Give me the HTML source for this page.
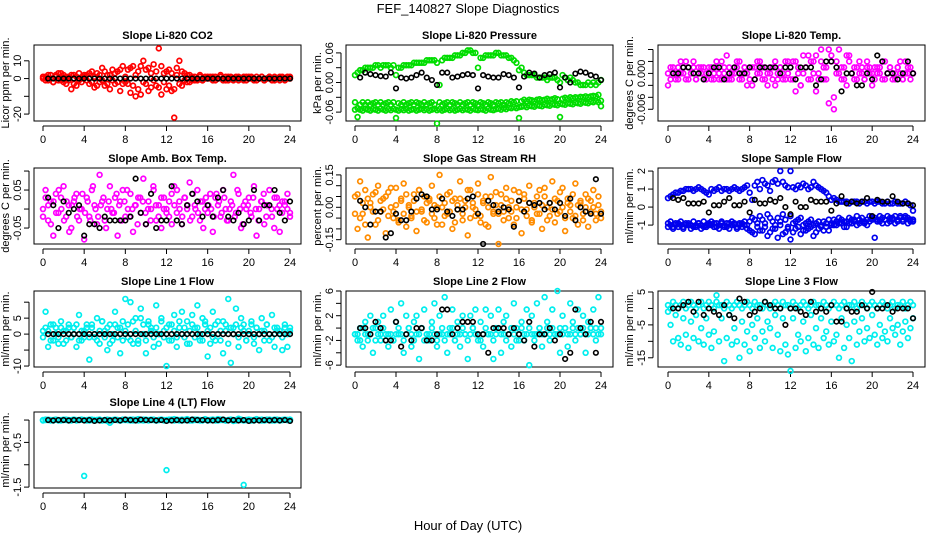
<!DOCTYPE html>
<html><head><meta charset="utf-8">
<style>
html,body{margin:0;padding:0;background:#fff;}
svg{display:block;font-family:"Liberation Sans",Arial,sans-serif;}
.t{font-size:11px;font-weight:bold;}
.tk{font-size:11px;}
</style></head>
<body>
<svg id="chart" width="936" height="540" viewBox="0 0 936 540" xmlns="http://www.w3.org/2000/svg">
<rect width="936" height="540" fill="#fff"/>
<text x="468" y="13" text-anchor="middle" font-size="13">FEF_140827  Slope Diagnostics</text>
<text x="468" y="530" text-anchor="middle" font-size="13">Hour of Day (UTC)</text>
</svg>
<script>
// ---- data (values per panel; colored series sampled every 0.25 h, black every 0.5 h) ----
const xTicks = [0,4,8,12,16,20,24];
const titles = ["Slope Li-820 CO2","Slope Li-820 Pressure","Slope Li-820 Temp.","Slope Amb. Box Temp.","Slope Gas Stream RH","Slope Sample Flow","Slope Line 1 Flow","Slope Line 2 Flow","Slope Line 3 Flow","Slope Line 4 (LT) Flow"];
const yTitles = ["Licor ppm per min.","kPa per min.","degrees C per min.","degrees C per min.","percent per min.","ml/min per min.","ml/min per min.","ml/min per min.","ml/min per min.","ml/min per min."];
const yTickVals = [[-20,-10,0,10],[-60,-30,0,30,60],[-6,-4,-2,0,2,4],[-5,0,5,10],[-15,-10,-5,0,5,10,15],[-10,0,10,20],[-10,-5,0,5,10],[-6,-4,-2,0,2,4,6],[-15,-10,-5,0,5],[-150,-100,-50,0]];
const yTickLabels = [["-20","","0","10"],["-0.06","","0.00","","0.06"],["-0.006","","","0.000","",""],["-0.05","","0.05",""],["-0.15","","","0.00","","","0.15"],["-1","0","1","2"],["-10","","0","5",""],["-6","","-2","","2","","6"],["-15","","-5","","5"],["-1.5","","-0.5",""]];
const yDomains = [[-23.9,18.9],[-78,76],[-7.96,4.75],[-9.2,10.8],[-17,18.2],[-20.5,21.7],[-10.3,13.5],[-6.3,6],[-17.8,5.3],[-152,18]];

const co2A=[0,1,-1,2,-2,1,3,-1,2,-3,1,-6,2,-4,3,-2,1,2,-3,4,-5,3,-2,6,-4,2,-6,5,-3,4,-7,7,-2,5,-8,7,-10,4,-9,10,-3,6,-5,8,-4,17,-9,3,-6,5,-7,-22,6,10,-4,3,-2,2,-1,1,-1,2,-1,1,0,1,-1,1,0,2,-1,1,-1,1,0,1,-1,0,1,-1,1,0,-1,1,0,1,-1,0,1,-1,1,0,-1,1,0,1,0];
const co2B=[1,-1,2,0,-2,2,-1,3,-2,1,-1,2,-3,1,-1,0,2,-1,3,-2,1,-4,2,-1,4,-3,2,-1,3,-2,5,-3,1,-3,6,-4,2,-6,7,-2,5,-7,3,-1,4,-5,7,-2,4,-4,3,-6,2,-3,4,-1,2,-2,1,-1,0,1,-1,0,1,0,1,-1,0,1,0,-1,1,0,-1,0,1,0,-1,1,0,1,0,-1,0,1,-1,0,1,0,-1,0,1,0,-1,0,1];
const co2K=[0,0,0,0,0,0,0,0,0,0,0,0,0,0,0,0,0,0,0,0,0,0,0,0,0,0,0,0,0,0,0,0,0,0,0,0,0,0,0,0,0,0,0,0,0,0,0,0];

const presU=[15,20,25,25,30,30,30,30,35,35,30,35,35,35,30,35,15,30,30,35,35,35,35,40,40,40,40,40,45,45,45,45,40,-5,45,50,50,50,50,55,55,55,60,60,65,65,60,60,30,50,50,55,55,55,55,60,60,55,55,55,50,50,45,40,25,30,20,15,15,15,15,10,10,10,10,5,10,10,10,5,0,15,10,5,10,5,0,0,-5,-5,-5,0,-5,0,-5,0,5];
const presL1=[-40,-70,-45,-40,-45,-40,-45,-42,-40,-45,-40,-45,-42,-40,-45,-40,-72,-42,-45,-40,-45,-42,-40,-45,-40,-42,-45,-40,-45,-42,-40,-45,-83,-40,-45,-42,-40,-45,-40,-42,-45,-40,-45,-42,-40,-45,-40,-42,-45,-40,-42,-45,-40,-42,-45,-40,-42,-40,-45,-40,-42,-38,-40,-38,-72,-38,-35,-38,-35,-36,-38,-35,-34,-36,-35,-33,-35,-34,-32,-34,-70,-33,-31,-33,-30,-32,-30,-31,-29,-30,-28,-30,-28,-27,-28,-25,-48];
const presL2=[-55,-52,-55,-57,-53,-55,-57,-54,-55,-57,-53,-55,-57,-54,-56,-53,-55,-57,-54,-56,-53,-57,-55,-54,-57,-55,-53,-56,-54,-57,-55,-53,-56,-54,-57,-55,-53,-56,-54,-57,-55,-53,-56,-54,-55,-57,-53,-55,-56,-54,-55,-57,-53,-55,-56,-54,-53,-55,-52,-54,-51,-52,-50,-52,-50,-49,-48,-50,-47,-48,-49,-46,-47,-48,-45,-46,-47,-44,-45,-46,-43,-44,-45,-42,-43,-44,-41,-42,-43,-40,-41,-42,-39,-40,-38,-40,-37];
const presK=[10,20,17,15,13,12,20,-12,10,8,10,15,20,10,5,-5,20,20,10,12,15,17,15,-12,15,12,10,10,17,15,10,-10,12,20,18,10,15,17,20,-10,10,0,18,22,20,15,12,5];

const tmpA=[-2,1,0,-1,1,2,0,-1,1,0,2,-1,1,0,1,-1,0,1,-1,2,0,-1,1,3,-1,0,1,2,-1,0,1,-2,1,-2,1,0,2,-1,1,-2,0,1,2,-1,1,0,-1,2,1,-1,2,0,-2,3,1,-1,2,0,3,-1,2,1,-1,4,2,-4,0,4,1,-1,3,2,0,-1,1,2,0,-1,1,0,-2,1,0,1,-1,2,0,1,-1,0,1,2,-1,0,1,-1,0];
const tmpB=[0,-1,1,0,-1,0,1,2,-1,0,1,-1,0,1,-1,0,1,-1,0,1,-1,2,0,-1,1,-1,0,1,2,-1,1,0,-1,1,-1,2,0,1,-1,0,1,-1,-2,0,1,-1,2,0,-1,2,-3,1,-2,0,1,3,-1,2,-3,0,4,-1,1,-5,3,-6,2,0,-1,1,-2,3,0,1,-1,0,1,-1,2,1,0,-1,1,0,2,-1,0,1,0,-1,1,0,-1,2,0,1,0];
const tmpK=[0,0,1,1,0,0,-1,0,1,1,-1,0,1,0,0,1,-1,1,1,1,1,0,1,1,-1,1,1,1,-2,-1,2,2,1,-3,0,0,-2,-2,0,-1,3,2,0,0,-1,0,2,0];

const ambA=[0,5,-3,2,-7,4,-1,3,6,-2,1,-5,2,4,-3,0,-8,3,-2,5,1,-4,9,2,-3,0,6,-1,3,-7,2,5,-2,0,4,-6,1,3,-1,8,-4,2,0,5,-3,1,-5,3,0,-2,4,6,-1,2,-4,3,0,7,-2,1,5,-3,2,0,-1,4,-6,3,1,-2,5,0,-3,2,9,-1,4,-5,1,0,3,-2,6,-7,0,2,-4,1,5,-2,3,0,-6,2,1,4,-1];
const ambB=[-2,3,1,-4,2,-1,5,0,-3,2,-6,1,3,-2,0,4,-1,2,-3,6,0,-2,1,3,-5,2,0,-1,4,1,-3,2,5,-2,0,1,-4,3,2,-1,0,-3,6,1,-2,3,0,-1,2,-4,1,5,0,-2,3,1,-3,4,0,-1,2,-5,3,1,0,-2,4,2,-1,3,-3,0,1,-2,5,0,-4,2,1,-1,3,0,-3,2,4,-2,1,0,-5,3,1,-1,2,0,-2];
const ambK=[3,1,-5,2,-1,0,1,-7,-4,-4,-5,-2,-3,-3,-3,-3,-2,8,-1,-4,4,-5,-3,-3,6,-3,-4,1,4,2,-2,1,-2,3,5,-2,-3,-1,-4,-3,5,-3,1,1,5,-1,-3,2];

const rhA=[5,-10,12,-3,8,-14,2,6,-8,10,-2,4,-12,7,0,-5,9,-6,3,11,-9,1,-4,6,-11,8,-2,5,-7,3,10,-5,0,15,-8,2,-3,7,-10,4,-1,12,-6,3,-13,8,0,-4,11,-7,2,5,-9,14,-3,1,-17,6,-2,9,-5,3,-8,0,7,-12,4,-1,10,-6,2,-3,8,-10,5,0,-4,12,-7,3,-2,9,-11,4,1,-5,11,-8,2,-3,6,-9,3,0,-6,5,-2];
const rhB=[-3,6,-5,2,-8,4,0,-2,7,-6,3,-1,5,-4,9,-2,1,-7,4,-3,6,0,-5,3,-2,8,-1,-6,2,4,-3,1,-8,5,0,-4,6,-2,3,-7,1,4,-3,0,8,-5,2,-1,6,-4,3,-8,0,5,-2,7,-3,1,-6,4,0,-2,8,-5,3,-1,6,-4,2,-7,0,5,-3,1,9,-6,2,-1,4,-3,7,0,-5,2,-2,6,-4,1,3,-6,0,4,-2,8,-3,1,-5];
const rhK=[3,0,-8,-2,-2,-14,-12,-3,-6,-6,-2,4,6,5,-1,-1,4,-2,-4,-1,-1,4,5,-3,-17,3,1,-2,0,-1,-9,3,-2,2,1,2,-1,2,-1,2,-4,4,-6,0,-2,-3,13,-3];

const smpU=[5,6,7,8,8,9,9,10,10,10,9,10,11,10,9,8,7,10,9,10,11,9,10,10,9,10,11,10,9,10,11,12,8,4,12,14,10,15,13,12,9,14,15,13,20,14,12,11,20,11,10,12,11,13,12,10,11,14,12,11,10,9,8,6,4,5,4,3,3,3,3,2,3,3,3,2,3,3,2,3,3,2,3,3,2,2,3,2,2,3,2,2,2,3,2,1,-2];
const smpL1=[-9,-10,-11,-10,-9,-10,-11,-10,-9,-10,-11,-10,-9,-10,-11,-10,-9,-10,-9,-11,-10,-9,-10,-11,-9,-10,-9,-11,-10,-9,-10,-12,-8,-14,-7,-11,-5,-13,-9,-16,-6,-12,-10,-17,-8,-4,-14,-11,-18,-9,-12,-7,-15,-10,-13,-8,-11,-16,-9,-12,-10,-8,-11,-13,-9,-10,-8,-9,-7,-11,-8,-9,-7,-8,-10,-7,-8,-9,-7,-8,-6,-17,-7,-8,-6,-7,-9,-6,-7,-5,-8,-6,-7,-5,-6,-8,-7];
const smpL2=[-11,-8,-12,-9,-11,-8,-12,-9,-10,-12,-8,-11,-9,-12,-8,-11,-10,-8,-11,-9,-12,-8,-11,-9,-12,-8,-10,-12,-9,-11,-8,-10,-13,-6,-15,-9,-13,-7,-11,-4,-14,-8,-12,-6,-10,-15,-7,-12,-5,-14,-8,-11,-6,-13,-9,-12,-7,-10,-14,-8,-11,-13,-9,-7,-10,-7,-10,-6,-9,-8,-11,-6,-9,-7,-5,-9,-6,-8,-10,-5,-7,-6,-8,-5,-9,-7,-5,-8,-6,-9,-7,-5,-8,-6,-9,-7,-8];
const smpK=[5,4,5,2,2,2,3,-3,1,1,3,5,1,1,3,-3,4,2,2,4,3,5,0,-4,3,0,0,4,3,3,3,-2,2,6,2,3,2,3,5,-5,4,3,3,6,3,2,2,1];

const l1A=[1,7,-4,3,-2,2,-3,4,1,-2,3,-1,2,-4,6,-2,1,3,-8,2,-1,5,-3,4,1,-5,3,-2,7,2,-6,4,11,-1,10,-3,5,-2,8,3,-6,4,2,-1,9,-3,5,1,-10,3,-2,6,-4,2,7,-1,4,-3,6,2,9,-2,5,3,-7,-3,7,-2,4,1,-6,3,11,-9,2,8,-4,5,3,-2,1,4,-3,2,-5,5,1,3,-2,6,-4,2,1,-5,3,-4,2];
const l1B=[-1,2,1,-2,3,0,-1,2,-3,1,2,-1,0,3,-2,1,-1,2,-1,3,0,-2,1,4,-1,2,-3,0,3,-1,2,-2,1,3,-2,4,1,-3,5,0,-2,3,1,-4,2,0,4,-1,2,-2,3,1,-1,4,0,2,-3,1,3,-1,2,0,-2,4,1,2,-1,3,0,-2,4,1,-3,2,0,3,-1,2,1,-2,0,3,-1,2,0,1,-2,3,0,-1,2,1,0,-1,2,0,1];
const l1K=[0,0,0,0,0,0,0,0,0,0,0,0,0,0,0,0,0,0,0,0,0,0,0,0,0,0,0,0,0,0,0,0,0,0,0,0,0,0,0,0,0,0,0,0,0,0,0,0];

const l2A=[-1,-2,0,-3,1,-1,2,-4,0,1,-2,2,-1,-3,3,-2,1,-1,4,-4,2,0,-3,1,2,-5,0,3,-1,-2,1,4,-3,2,-1,5,-4,0,3,-2,1,-3,2,-1,-5,2,0,3,-2,1,-3,3,-1,2,-5,0,3,-4,1,2,-1,-3,4,0,-2,1,-2,3,-6,2,-1,4,0,-3,5,1,-2,3,-1,6,-4,2,0,-3,4,1,-2,3,-1,2,-4,1,0,3,-2,5,-1];
const l2B=[-1,-1,-2,0,-1,-2,-1,0,-2,-1,-1,0,-2,-1,-1,-2,-1,0,-1,-2,-1,0,-1,-2,-1,-1,0,-2,-1,-1,0,-1,-2,-1,0,-2,-1,-1,0,-2,-1,-1,0,-1,-2,-1,0,-1,-1,-2,-1,0,-1,-1,-2,-1,0,-1,-1,-2,-1,0,-1,-2,-1,0,-1,-1,0,-1,-2,-1,0,-1,-1,0,-1,0,-1,-1,0,-1,0,-1,-1,0,-1,0,-1,0,-1,-1,0,-1,0,-1,0];
const l2K=[0,0,-1,1,0,-2,-2,1,-3,-1,-2,0,0,-2,-2,-1,3,3,-1,0,1,1,1,-1,-1,-4,0,0,0,-1,0,-1,-2,1,-3,-1,-1,0,-2,-1,-5,-4,3,0,-1,1,-4,1];

const l3A=[1,0,2,1,0,1,2,0,1,2,1,0,1,2,0,1,2,1,0,2,1,1,0,2,1,0,1,2,1,0,1,2,1,0,2,1,1,0,2,1,0,1,2,1,0,2,1,1,0,2,1,0,1,2,1,0,1,2,1,1,0,2,1,0,1,2,1,0,1,2,0,1,1,2,0,1,2,1,0,1,2,1,0,1,2,1,0,1,2,0,1,1,2,0,1,2,1];
const l3B=[-1,-5,-10,-2,-9,-11,-3,-8,-12,-4,-9,-2,-10,-6,-11,-3,-8,-12,-7,4,-10,-3,-16,-9,-2,-11,-6,-10,-15,-4,-11,-7,-13,-5,-9,-3,-12,-7,-10,-4,-6,-12,-2,-8,-13,-3,-11,-14,-19,-3,-12,-8,-10,-4,-13,-9,-2,-11,-6,-12,-3,-9,-7,-11,-4,-10,-8,-15,-3,-12,-5,-9,-16,-4,-11,-7,-3,-10,-6,-9,-2,-8,-11,-5,-9,-7,-10,-3,-6,-8,-5,-11,-7,-4,-9,-6,-3];
const l3K=[0,0,1,2,-1,2,-2,0,-1,-2,1,-2,-3,3,2,-2,-1,0,2,1,0,0,-5,0,0,-1,-2,2,-1,0,-1,1,-4,-4,0,-1,-1,1,0,5,0,0,1,-1,0,0,0,-3];

const l4A=[0,1,0,-1,0,1,-1,0,1,0,0,-1,1,0,0,1,-125,0,-1,1,0,0,1,-1,0,-2,-6,0,1,0,-1,1,0,0,1,-1,0,2,0,-1,1,0,0,1,-1,0,1,0,-112,0,1,2,0,-1,1,0,2,-1,1,0,1,0,-1,2,0,0,1,-1,2,0,1,-1,0,1,-2,0,3,1,-145,0,1,-1,0,2,0,1,-1,0,1,0,-1,1,0,0,1,0,1];
const l4B=[-1,0,1,0,-1,1,0,-1,0,1,-1,0,1,-1,0,1,0,-1,1,0,-1,0,1,-1,0,1,0,-1,1,0,-1,0,1,0,-1,1,0,-1,0,1,0,-1,1,0,-1,0,1,-1,0,1,0,-1,1,0,-1,0,1,0,-1,1,0,-1,0,1,-1,0,1,0,-1,1,0,-1,0,1,0,-1,1,0,-1,0,1,0,-1,1,0,-1,0,1,0,-1,1,0,-1,0,1,0,-1];
const l4K=[0,-1,0,0,-1,0,0,-1,0,-2,-1,0,-1,0,-1,1,0,-1,1,0,0,-1,0,-2,-1,0,-1,-1,1,0,0,-1,-1,0,1,-1,0,-1,0,-2,-1,-1,0,-1,0,-1,0,-2];

const colorSeries = [[co2A,co2B],[presU,presL1,presL2],[tmpA,tmpB],[ambA,ambB],[rhA,rhB],[smpU,smpL1,smpL2],[l1A,l1B],[l2A,l2B],[l3A,l3B],[l4A,l4B]];
const blackSeries = [co2K,presK,tmpK,ambK,rhK,smpK,l1K,l2K,l3K,l4K];
const colors = ["#ff0000","#00dd00","#ff00ff","#ff00ff","#ff8c00","#0000ee","#00eeee","#00eeee","#00eeee","#00eeee"];

// ---- layout ----
const NS="http://www.w3.org/2000/svg";
const svg=document.getElementById('chart');
const colL=[34,346,658], colX0=[43,355,668], colX24=[290,601,913];
const rowT=[45,168,291,412], BW=267, BH=76;
function mk(tag,attrs,parent){const e=document.createElementNS(NS,tag);for(const k in attrs)e.setAttribute(k,attrs[k]);(parent||svg).appendChild(e);return e;}

for(let p=0;p<10;p++){
  const c=p%3, r=Math.floor(p/3);
  const L=colL[c], T=rowT[r], B=T+BH;
  const xs=h=>colX0[c]+(colX24[c]-colX0[c])*h/24;
  const [d0,d1]=yDomains[p];
  const ys=v=>B-(v-d0)/(d1-d0)*BH;
  const g=mk('g',{});
  
  
  const title=mk('text',{x:L+BW/2,y:T-6,'text-anchor':'middle','class':'t'},g);
  title.textContent=titles[p];
  
  
  const yt=mk('text',{x:0,y:0,'text-anchor':'middle','class':'tk',transform:`translate(${L-25},${T+BH/2}) rotate(-90)`},g);
  yt.textContent=yTitles[p];
  
  
  const xa=mk('g',{},g);
  
  
  mk('line',{x1:xs(0),x2:xs(24),y1:B+5,y2:B+5,stroke:'#000','stroke-width':1},xa);
  xTicks.forEach(t=>{
    mk('line',{x1:xs(t),x2:xs(t),y1:B+5,y2:B+10,stroke:'#000','stroke-width':1},xa);
    const tl=mk('text',{x:xs(t),y:B+22,'text-anchor':'middle','class':'tk'},xa);
    tl.textContent=t;
    
    
  });
  const ya=mk('g',{},g);
  
  
  const tv=yTickVals[p];
  mk('line',{x1:L-5,x2:L-5,y1:ys(tv[0]),y2:ys(tv[tv.length-1]),stroke:'#000','stroke-width':1},ya);
  tv.forEach((t,i)=>{
    mk('line',{x1:L-10,x2:L-5,y1:ys(t),y2:ys(t),stroke:'#000','stroke-width':1},ya);
    if(yTickLabels[p][i]){
      const tl=mk('text',{x:0,y:0,'text-anchor':'middle','class':'tk',transform:`translate(${L-13},${ys(t)}) rotate(-90)`},ya);
      tl.textContent=yTickLabels[p][i];
      
      
    }
  });
  const bx=mk('rect',{x:L,y:T,width:BW,height:BH,fill:'none',stroke:'#000','stroke-width':1},g);
  
  
  colorSeries[p].forEach(arr=>{
    const n=arr.length;
    arr.forEach((v,i)=>{
      const pt=mk('circle',{cx:xs(i*24/(n-1)),cy:ys(v),r:2.4,fill:'none',stroke:colors[p],'stroke-width':1.7},g);
      
      
    });
  });
  const bk=blackSeries[p];
  bk.forEach((v,i)=>{
    const pt=mk('circle',{cx:xs((i+1)*24/bk.length),cy:ys(v),r:2.3,fill:'none',stroke:'#000','stroke-width':1.6},g);
    
    
  });
}
</script>
</body></html>
